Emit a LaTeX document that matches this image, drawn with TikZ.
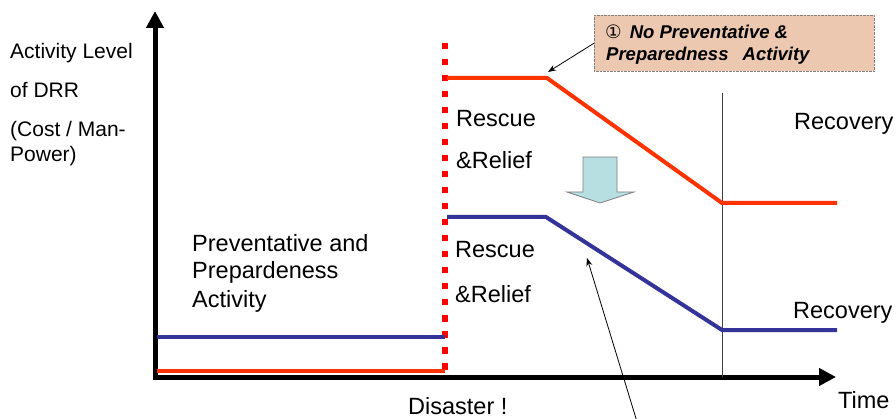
\documentclass[tikz,border=0pt]{standalone}
\usepackage{fontspec}
\setmainfont{Liberation Sans}
\newfontfamily\circfont{DejaVu Sans}
\usepackage{tikz}
\usetikzlibrary{arrows.meta}
\usetikzlibrary{calc}

\definecolor{riskred}{HTML}{FF3300}
\definecolor{drrblue}{HTML}{333399}
\definecolor{notefill}{HTML}{ECC8B0}
\definecolor{downfill}{HTML}{B7DEE0}

\begin{document}
\begin{tikzpicture}[x=1pt,y=-1pt,
  lbl/.style={anchor=base west,inner sep=0pt,font=\fontsize{23.5}{28}\selectfont},
  ylbl/.style={anchor=base west,inner sep=0pt,font=\fontsize{21}{25}\selectfont},
  notelbl/.style={anchor=base west,inner sep=0pt,font=\fontsize{18.5}{22}\selectfont\bfseries\itshape},
  level/.style={line width=4pt},
  axis/.style={line width=5pt,-{Triangle[length=17pt,width=17pt]}},
  pointer/.style={line width=0.8pt,-{Stealth[length=8pt,width=6pt]}}]
  \useasboundingbox (0,0) rectangle (896,419);
  % axes
  \coordinate (o) at (155,377);
  \coordinate (ytop) at (155,11);
  \coordinate (xend) at (836,377);
  \draw[axis] ($(o)+(0,2.5)$) -- (ytop);
  \draw[axis] ($(o)+(-2.5,0)$) -- (xend);
  % recovery border and disaster line
  \coordinate (rtop) at (722,93);
  \draw[black!75,line width=0.9pt] (rtop) -- (rtop|-o);
  \draw[red,line width=6.5pt,dash pattern=on 6.5pt off 9.5pt] (445,43) -- (445,370);
  % activity levels
  \coordinate (rk) at (547,78);
  \coordinate (bk) at (546,217);
  \draw[level,riskred] (157,371) -- (445,371);
  \draw[level,drrblue] (157,337) -- (445,337);
  \draw[level,riskred] (447,78) -- (rk) -- (722,203) -- (837,203);
  \draw[level,drrblue] (447,217) -- (bk) -- (722,330) -- (837,330);
  % reduction arrow
  \draw[fill=downfill,draw=gray,line width=0.8pt] (583,157) -- (617,157) -- (617,192)
    -- (634,192) -- (600,203) -- (567,192) -- (583,192) -- cycle;
  % note
  \node[draw=gray,densely dotted,fill=notefill,anchor=north west,
    minimum width=280pt,minimum height=56pt,inner sep=0pt] (note) at (594,15) {};
  \node[notelbl] (n1) at (605,39) {{\circfont\mdseries\itshape ①}\hspace{8pt}No Preventative \&};
  \node[notelbl] (n2) at (606,61) {Preparedness\hspace{9pt} Activity};
  \coordinate (rtip) at (548,72);
  \coordinate (btip) at (587,258);
  \coordinate (bfoot) at (638,425);
  \path[pointer] (note.west) edge (rtip)
  (bfoot) edge (btip);
  % labels
  \node[ylbl] (y1) at (10,59) {Activity Level};
  \node[ylbl] (y2) at (10,98) {of DRR};
  \node[ylbl] (y3) at (10,137) {(Cost / Man-};
  \node[ylbl] (y4) at (10,162) {Power)};
  \node[lbl] (rs1) at (456,127) {Rescue};
  \node[lbl] (rl1) at (456,169) {\&Relief};
  \node[lbl] (rs2) at (455,258) {Rescue};
  \node[lbl] (rl2) at (455,302) {\&Relief};
  \node[lbl] (rc1) at (794,130) {Recovery};
  \node[lbl] (rc2) at (793,319) {Recovery};
  \node[lbl] (p1) at (192,252) {Preventative and};
  \node[lbl] (p2) at (192,279) {Prepardeness};
  \node[lbl] (p3) at (192,308) {Activity};
  \node[lbl] (dis) at (408,414) {Disaster !};
  \node[lbl] (time) at (838,408) {Time};
\end{tikzpicture}
\end{document}
